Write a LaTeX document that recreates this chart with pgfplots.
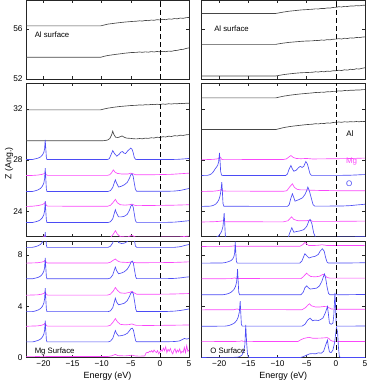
\documentclass[border=0pt]{standalone}
\usepackage{pgfplots}
\pgfplotsset{compat=1.18}
\usepackage{fontspec}
\setmainfont{Liberation Sans}
\definecolor{cblue}{RGB}{75,75,245}
\definecolor{cmag}{RGB}{250,70,250}
\definecolor{cgray}{RGB}{70,70,70}
\pgfplotsset{
 panel/.style={scale only axis, anchor=south west, xmin=-23, xmax=5,
   axis line style={line width=0.6pt, black!85},
   tick style={line width=0.5pt, black!85}, major tick length=3bp,
   xtick={-20,-15,-10,-5,0,5},
   tick label style={font=\fontsize{8.3}{9}\selectfont},
   clip=true},
 noxl/.style={xticklabels={,,,,,}},
 bl/.style={xticklabels={−20,−15,−10,−5,0,5}},
 gl/.style={cgray, line width=0.65pt},
 bu/.style={cblue, line width=0.65pt},
 mg/.style={cmag, line width=0.65pt},
 zl/.style={black, line width=0.6pt, dash pattern=on 5bp off 3bp},
}
\begin{document}
\begin{tikzpicture}
\path[use as bounding box] (0,0) rectangle (374bp,384bp);
% ===================== LEFT TOP =====================
\begin{axis}[panel, noxl, at={(26bp,305bp)}, width=163bp, height=78.5bp,
  ymin=52, ymax=58.3, ytick={52,56}, yticklabels={52,56}]
\addplot[gl] coordinates {(-23,56.26) (-10.2,56.26) (-9.6,56.33) (-9,56.40) (-8,56.46) (-7,56.52) (-6,56.57) (-5,56.61) (-4,56.64) (-3.5,56.67) (-3,56.65) (-2.5,56.70) (-2,56.68) (-1.5,56.73) (-1,56.71) (-0.5,56.76) (0,56.74) (0.5,56.79) (1,56.76) (1.5,56.82) (2,56.80) (2.5,56.85) (3,56.83) (3.5,56.89) (4,56.87) (4.5,56.92) (5,56.94)};
\addplot[gl] coordinates {(-23,53.74) (-10.2,53.74) (-9.6,53.82) (-9,53.88) (-8,53.95) (-7,54.01) (-6,54.07) (-5,54.12) (-4,54.14) (-3.5,54.17) (-3,54.14) (-2.5,54.18) (-2,54.15) (-1.5,54.20) (-1,54.17) (-0.5,54.21) (0,54.18) (0.5,54.22) (1,54.19) (1.5,54.24) (2,54.22) (2.5,54.28) (3,54.30) (3.5,54.36) (4,54.38) (4.5,54.45) (5,54.50)};
\addplot[zl] coordinates {(0,52) (0,58.3)};
\node[anchor=west, font=\fontsize{7.8}{9}\selectfont] at (axis cs:-22.1,55.58) {Al surface};
\end{axis}
% ===================== LEFT MIDDLE =====================
\begin{axis}[panel, noxl, at={(26bp,147.3bp)}, width=163bp, height=153.4bp,
  ymin=22, ymax=34, ytick={24,28,32}, yticklabels={24,28,32}]
\addplot[gl] coordinates {(-23,31.92) (-10.2,31.92) (-9.6,31.99) (-9,32.05) (-8,32.12) (-7,32.18) (-6,32.22) (-5,32.26) (-4,32.28) (-3.5,32.31) (-3,32.29) (-2.5,32.33) (-2,32.31) (-1.5,32.35) (-1,32.33) (-0.5,32.36) (0,32.34) (0.5,32.38) (1,32.36) (1.5,32.40) (2,32.38) (2.5,32.41) (3,32.40) (3.5,32.43) (4,32.41) (4.5,32.44) (5,32.44)};
\addplot[gl] coordinates {(-23,29.50) (-10,29.50) (-9.5,29.52) (-9,29.56) (-8.6,29.68) (-8.3,29.95) (-8.1,30.26) (-7.9,30.0) (-7.6,29.78) (-7.2,29.76) (-6.8,29.82) (-6.5,29.88) (-6.2,29.80) (-5.8,29.72) (-5.4,29.70) (-5,29.69) (-4.5,29.66) (-4,29.65) (-3.5,29.68) (-3,29.66) (-2.5,29.71) (-2,29.69) (-1.5,29.74) (-1,29.72) (-0.5,29.78) (0,29.76) (0.5,29.82) (1,29.80) (1.5,29.86) (2,29.84) (2.5,29.90) (3,29.88) (3.5,29.94) (4,29.92) (4.5,29.97) (5,29.99)};
\addplot[bu] coordinates {(-23,28.04) (-21.9,28.04) (-21.4,28.09) (-20.9,28.15) (-20.5,28.24) (-20.2,28.38) (-19.95,28.58) (-19.8,28.89) (-19.7,29.58) (-19.6,28.89) (-19.5,28.19) (-19.4,28.04) (-9,28.04) (-8.7,28.1) (-8.4,28.4) (-8.1,28.74) (-7.8,28.5) (-7.4,28.3) (-7.0,28.45) (-6.7,28.62) (-6.4,28.66) (-6.2,28.55) (-5.9,28.5) (-5.55,28.7) (-5.2,28.85) (-5.0,28.93) (-4.8,28.85) (-4.6,28.6) (-4.4,28.2) (-4.2,28.06) (-4,28.04) (2,28.04) (3,28.05) (4,28.08) (5,28.12)};
\addplot[mg] coordinates {(-23,26.79) (-22,26.79) (-21,26.82) (-20.3,26.87) (-19.9,26.93) (-19.7,27.0) (-19.5,26.84) (-19.3,26.80) (-9,26.80) (-8.6,26.85) (-8.3,27.0) (-8.0,27.23) (-7.7,27.05) (-7.3,26.95) (-6.5,26.9) (-5.5,26.9) (-5.0,26.97) (-4.6,26.92) (-4.2,26.85) (-3,26.84) (-1,26.85) (0,26.86) (1,26.87) (2,26.88) (3,26.91) (4,26.94) (5,26.97)};
\addplot[bu] coordinates {(-23,25.54) (-21.9,25.54) (-21.4,25.59) (-20.9,25.67) (-20.5,25.78) (-20.2,25.94) (-19.95,26.18) (-19.8,26.55) (-19.7,27.37) (-19.6,26.55) (-19.5,25.72) (-19.4,25.54) (-8.9,25.54) (-8.5,25.6) (-8.1,25.85) (-7.85,26.2) (-7.65,26.45) (-7.45,26.2) (-7.1,25.88) (-6.6,25.95) (-6.1,26.06) (-5.6,26.25) (-5.2,26.6) (-5.0,26.85) (-4.8,26.92) (-4.6,26.75) (-4.4,26.2) (-4.2,25.7) (-4.0,25.56) (1,25.55) (2.5,25.57) (3.5,25.62) (4.3,25.7) (5,25.77)};
\addplot[mg] coordinates {(-23,24.37) (-22,24.38) (-21,24.43) (-20.3,24.5) (-19.9,24.58) (-19.7,24.7) (-19.5,24.45) (-19.3,24.39) (-9,24.38) (-8.5,24.45) (-8.0,24.7) (-7.65,24.92) (-7.3,24.65) (-6.8,24.5) (-6,24.47) (-5.2,24.5) (-4.8,24.55) (-4.4,24.47) (-4,24.43) (-2,24.44) (0,24.45) (2,24.46) (3.5,24.48) (5,24.5)};
\addplot[bu] coordinates {(-23,23.11) (-21.9,23.11) (-21.4,23.16) (-20.9,23.23) (-20.5,23.33) (-20.2,23.48) (-19.95,23.7) (-19.8,24.03) (-19.7,24.79) (-19.6,24.03) (-19.5,23.28) (-19.4,23.11) (-8.9,23.11) (-8.5,23.17) (-8.1,23.4) (-7.85,23.8) (-7.65,24.11) (-7.45,23.85) (-7.1,23.55) (-6.6,23.55) (-6.1,23.6) (-5.6,23.75) (-5.2,24.1) (-5.0,24.38) (-4.8,24.5) (-4.6,24.35) (-4.4,23.8) (-4.2,23.25) (-4.0,23.12) (1,23.12) (2.5,23.14) (3.5,23.18) (4.3,23.22) (5,23.25)};
\addplot[mg] coordinates {(-23,21.85) (-20.5,21.9) (-19.9,22.0) (-19.7,22.12) (-19.5,21.9) (-9,21.86) (-8.5,21.93) (-8.0,22.2) (-7.65,22.47) (-7.3,22.2) (-6.8,22.0) (-5.5,21.98) (-4.8,22.12) (-4.4,22.0) (-4,21.95) (0,21.97) (3.5,21.99) (5,22.05)};
\addplot[bu] coordinates {(-23,20.6) (-20.2,20.9) (-19.95,21.2) (-19.8,21.6) (-19.7,22.35) (-19.6,21.6) (-19.5,20.8) (-19.4,20.6) (-9,20.6) (-7.65,21.6) (-7.1,21.0) (-4.8,21.9) (-4,20.6) (5,20.75)};
\addplot[zl] coordinates {(0,22) (0,34)};
\end{axis}
% ===================== LEFT BOTTOM =====================
\begin{axis}[panel, bl, at={(26bp,26.3bp)}, width=163bp, height=116bp,
  ymin=0, ymax=9.04, ytick={0,4,8}, yticklabels={0,4,8}]
\addplot[bu] coordinates {(-23,8.6) (-21.9,8.6) (-21.4,8.65) (-20.9,8.73) (-20.5,8.83) (-20.2,9.0) (-19.95,9.23) (-19.8,9.6) (-19.7,10.4) (-19.6,9.6) (-19.5,8.78) (-19.4,8.6) (-8.9,8.6) (-8.5,8.68) (-8.1,8.95) (-7.85,9.4) (-7.65,9.7) (-7.45,9.4) (-7.1,8.98) (-6.6,8.9) (-6.1,8.93) (-5.6,9.05) (-5.2,9.5) (-5.0,9.9) (-4.8,10.0) (-4.6,9.8) (-4.4,9.2) (-4.2,8.7) (-4.0,8.6) (2.5,8.6) (3.5,8.65) (4.3,8.75) (5,8.82)};
\addplot[mg] coordinates {(-23,7.37) (-21,7.4) (-20.3,7.45) (-19.9,7.5) (-19.7,7.6) (-19.5,7.42) (-19.3,7.38) (-9,7.38) (-8.5,7.44) (-8.0,7.6) (-7.65,7.69) (-7.3,7.55) (-6.8,7.45) (-5.5,7.42) (-4.8,7.47) (-4.4,7.42) (-4,7.4) (0,7.41) (2,7.42) (3.5,7.44) (5,7.47)};
\addplot[bu] coordinates {(-23,6.15) (-21.9,6.15) (-21.4,6.2) (-20.9,6.26) (-20.5,6.36) (-20.2,6.51) (-19.95,6.72) (-19.8,7.04) (-19.7,7.77) (-19.6,7.04) (-19.5,6.31) (-19.4,6.15) (-8.9,6.15) (-8.5,6.21) (-8.1,6.45) (-7.85,6.8) (-7.65,7.06) (-7.45,6.8) (-7.1,6.54) (-6.6,6.6) (-6.1,6.7) (-5.6,6.9) (-5.2,7.2) (-5.0,7.42) (-4.75,7.53) (-4.55,7.35) (-4.35,6.8) (-4.15,6.3) (-4.0,6.16) (1,6.16) (2.5,6.18) (3.5,6.22) (4.3,6.27) (5,6.3)};
\addplot[mg] coordinates {(-23,4.87) (-21,4.9) (-20.3,4.95) (-19.9,5.02) (-19.7,5.12) (-19.5,4.93) (-19.3,4.88) (-9,4.88) (-8.5,4.95) (-8.0,5.2) (-7.65,5.47) (-7.3,5.25) (-6.8,5.05) (-6,5.02) (-5.3,5.08) (-4.8,5.16) (-4.4,5.05) (-4,4.95) (-2,4.94) (0,4.95) (2,4.96) (3.5,4.98) (5,5.0)};
\addplot[bu] coordinates {(-23,3.59) (-21.9,3.59) (-21.4,3.64) (-20.9,3.72) (-20.5,3.83) (-20.2,3.99) (-19.95,4.23) (-19.8,4.6) (-19.7,5.42) (-19.6,4.6) (-19.5,3.77) (-19.4,3.59) (-8.9,3.59) (-8.5,3.65) (-8.1,3.9) (-7.85,4.3) (-7.65,4.64) (-7.45,4.35) (-7.1,4.12) (-6.6,4.18) (-6.1,4.25) (-5.6,4.45) (-5.2,4.8) (-5.0,5.02) (-4.75,5.13) (-4.55,4.95) (-4.35,4.4) (-4.15,3.8) (-4.0,3.6) (1,3.6) (2.5,3.63) (3.5,3.68) (4.3,3.74) (5,3.8)};
\addplot[mg] coordinates {(-23,2.45) (-21,2.48) (-20.3,2.53) (-19.9,2.6) (-19.7,2.7) (-19.5,2.5) (-19.3,2.46) (-9,2.46) (-8.5,2.53) (-8.0,2.8) (-7.65,3.05) (-7.3,2.8) (-6.8,2.6) (-6,2.56) (-5.3,2.58) (-4.8,2.63) (-4.4,2.56) (-4,2.52) (-2,2.51) (0,2.52) (2,2.53) (3.5,2.54) (5,2.55)};
\addplot[bu] coordinates {(-23,1.23) (-21.9,1.23) (-21.4,1.28) (-20.9,1.35) (-20.5,1.45) (-20.2,1.6) (-19.95,1.81) (-19.8,2.14) (-19.7,2.89) (-19.6,2.14) (-19.5,1.4) (-19.4,1.23) (-8.9,1.23) (-8.5,1.29) (-8.1,1.5) (-7.85,1.85) (-7.65,2.11) (-7.45,1.9) (-7.1,1.69) (-6.6,1.72) (-6.1,1.78) (-5.6,1.9) (-5.2,2.12) (-5.0,2.25) (-4.75,2.3) (-4.55,2.15) (-4.35,1.7) (-4.15,1.3) (-4.0,1.24) (1,1.24) (2.5,1.26) (3.3,1.3) (3.8,1.4) (4.2,1.5) (4.6,1.45) (5,1.5)};
\addplot[mg] coordinates {(-23,0.08) (-21,0.09) (-19.7,0.12) (-19.5,0.09) (-9,0.09) (-8.3,0.14) (-7.65,0.26) (-7.2,0.16) (-6,0.14) (-5.2,0.17) (-4.8,0.2) (-4.3,0.14) (-3.5,0.12) (-2.6,0.14) (-2.4,0.35) (-2.2,0.42) (-2.0,0.38) (-1.8,0.5) (-1.6,0.45) (-1.4,0.55) (-1.2,0.42) (-1.0,0.6) (-0.8,0.48) (-0.6,0.4) (-0.4,0.55) (-0.2,0.3) (0,0.45) (0.2,0.62) (0.4,0.5) (0.6,0.75) (0.8,0.55) (1.0,0.85) (1.2,0.4) (1.4,0.65) (1.6,0.5) (1.8,0.72) (2.0,0.45) (2.2,0.3) (2.4,0.55) (2.6,0.7) (2.8,0.38) (3.0,0.6) (3.2,0.45) (3.4,0.68) (3.6,0.35) (3.8,0.5) (4.0,0.42) (4.2,0.8) (4.4,0.4) (4.6,0.95) (4.8,0.5) (5,0.6)};
\addplot[zl] coordinates {(0,0) (0,9.04)};
\node[anchor=west, font=\fontsize{7.8}{9}\selectfont] at (axis cs:-22.1,0.52) {Mg Surface};
\end{axis}
% ===================== RIGHT TOP =====================
\begin{axis}[panel, noxl, at={(201.7bp,305bp)}, width=163.3bp, height=78.5bp,
  ymin=52, ymax=58.3, ytick={52,56}, yticklabels={,}]
\addplot[gl] coordinates {(-23,57.26) (-10.3,57.26) (-9.6,57.32) (-9,57.37) (-8,57.44) (-7,57.49) (-6,57.54) (-5,57.57) (-4,57.6) (-3.5,57.63) (-3,57.62) (-2.5,57.66) (-2,57.65) (-1.5,57.7) (-1,57.69) (-0.5,57.74) (0,57.75) (0.5,57.80) (1,57.78) (1.5,57.83) (2,57.82) (2.5,57.86) (3,57.85) (3.5,57.89) (4,57.87) (4.5,57.91) (5,57.92)};
\addplot[gl] coordinates {(-23,54.78) (-10.3,54.78) (-9.6,54.84) (-9,54.88) (-8,54.94) (-7,54.98) (-6,55.02) (-5,55.05) (-4,55.06) (-3.5,55.1) (-3,55.08) (-2.5,55.13) (-2,55.11) (-1.5,55.16) (-1,55.14) (-0.5,55.19) (0,55.2) (0.5,55.24) (1,55.21) (1.5,55.27) (2,55.25) (2.5,55.3) (3,55.28) (3.5,55.33) (4,55.32) (4.5,55.36) (5,55.38)};
\addplot[gl] coordinates {(-23,52.24) (-10.3,52.24) (-9.6,52.3) (-9,52.35) (-8,52.41) (-7,52.46) (-6,52.5) (-5,52.52) (-4,52.54) (-3.5,52.58) (-3,52.56) (-2.5,52.6) (-2,52.58) (-1.5,52.63) (-1,52.61) (-0.5,52.66) (0,52.66) (0.5,52.70) (1,52.68) (1.5,52.74) (2,52.71) (2.5,52.78) (3,52.75) (3.5,52.82) (4,52.80) (4.5,52.86) (5,52.9)};
\addplot[zl] coordinates {(0,52) (0,58.3)};
\node[anchor=west, font=\fontsize{7.8}{9}\selectfont] at (axis cs:-21.45,56.06) {Al surface};
\end{axis}
% ===================== RIGHT MIDDLE =====================
\begin{axis}[panel, noxl, at={(201.7bp,147.3bp)}, width=163.3bp, height=153.4bp,
  ymin=22, ymax=34, ytick={24,28,32}, yticklabels={,,}]
\addplot[gl] coordinates {(-23,32.86) (-10.3,32.86) (-9.6,32.93) (-9,32.99) (-8,33.06) (-7,33.12) (-6,33.17) (-5,33.21) (-4,33.25) (-3.5,33.28) (-3,33.27) (-2.5,33.31) (-2,33.3) (-1.5,33.34) (-1,33.33) (-0.5,33.37) (0,33.37) (0.5,33.41) (1,33.39) (1.5,33.44) (2,33.42) (2.5,33.46) (3,33.45) (3.5,33.48) (4,33.47) (4.5,33.5) (5,33.51)};
\addplot[gl] coordinates {(-23,30.38) (-10.3,30.38) (-9.6,30.46) (-9,30.53) (-8,30.61) (-7,30.67) (-6,30.72) (-5,30.77) (-4,30.8) (-3.5,30.84) (-3,30.82) (-2.5,30.87) (-2,30.85) (-1.5,30.9) (-1,30.88) (-0.5,30.93) (0,30.95) (0.5,30.97) (1,30.95) (1.5,30.99) (2,30.97) (2.5,31.0) (3,30.98) (3.5,31.01) (4,30.99) (4.5,31.02) (5,31.01)};
\addplot[mg] coordinates {(-23,28.02) (-21,28.05) (-20.3,28.09) (-19.95,28.15) (-19.75,28.2) (-19.6,28.06) (-19.3,28.03) (-9,28.04) (-8.5,28.08) (-8.0,28.25) (-7.7,28.35) (-7.3,28.2) (-6.8,28.12) (-6,28.1) (-5,28.12) (-4.5,28.1) (-4,28.08) (-2,28.09) (0,28.1) (2,28.11) (3.5,28.13) (5,28.15)};
\addplot[bu] coordinates {(-23,26.79) (-22,26.8) (-21.6,26.85) (-21.3,26.93) (-21,27.08) (-20.7,27.3) (-20.45,27.45) (-20.25,27.6) (-20.1,27.85) (-19.95,28.56) (-19.85,27.9) (-19.75,27.1) (-19.6,26.82) (-19.4,26.79) (-8.6,26.79) (-8.3,26.9) (-8.0,27.3) (-7.7,27.57) (-7.45,27.3) (-7.2,27.12) (-6.8,27.2) (-6.4,27.4) (-6.1,27.5) (-5.8,27.42) (-5.5,27.5) (-5.15,27.88) (-4.9,27.7) (-4.7,27.4) (-4.45,26.95) (-4.2,26.8) (1,26.8) (2.5,26.81) (3.5,26.83) (4.3,26.85) (5,26.86)};
\addplot[mg] coordinates {(-23,25.54) (-21,25.56) (-20.2,25.6) (-19.8,25.65) (-19.55,25.7) (-19.4,25.57) (-9,25.55) (-8.4,25.6) (-7.9,25.9) (-7.45,26.14) (-7.1,25.85) (-6.6,25.7) (-6,25.66) (-5,25.66) (-4.5,25.64) (-3,25.62) (0,25.6) (2,25.6) (3.5,25.6) (5,25.6)};
\addplot[bu] coordinates {(-23,24.37) (-21.5,24.39) (-21,24.45) (-20.6,24.55) (-20.3,24.7) (-20.05,24.9) (-19.85,25.2) (-19.7,25.6) (-19.55,26.27) (-19.45,25.5) (-19.35,24.6) (-19.2,24.38) (-8.3,24.37) (-8.0,24.5) (-7.75,24.95) (-7.45,25.36) (-7.2,25.05) (-7.0,24.78) (-6.6,24.85) (-6.1,24.95) (-5.7,25.05) (-5.3,25.3) (-5.0,25.6) (-4.8,25.88) (-4.55,25.6) (-4.2,25.0) (-3.9,24.5) (-3.6,24.39) (1,24.4) (2.5,24.43) (3.5,24.48) (4.3,24.51) (5,24.54)};
\addplot[mg] coordinates {(-23,23.15) (-21,23.17) (-20,23.2) (-19.2,23.25) (-19.0,23.17) (-9,23.16) (-8.2,23.25) (-7.6,23.55) (-7.2,23.35) (-6.5,23.25) (-5,23.25) (-4.4,23.3) (-4.0,23.2) (0,23.2) (5,23.22)};
\addplot[bu] coordinates {(-23,21.9) (-20.5,21.95) (-20,22.1) (-19.6,22.4) (-19.35,22.8) (-19.15,23.85) (-19.05,23.0) (-18.95,22.1) (-18.8,21.9) (-8.2,21.9) (-7.9,22.3) (-7.55,22.7) (-7.2,22.35) (-6.8,22.4) (-6.2,22.45) (-5.5,22.55) (-5.0,22.8) (-4.6,23.25) (-4.4,23.35) (-4.1,23.0) (-3.8,22.3) (-3.5,21.95) (5,22.0)};
\addplot[zl] coordinates {(0,22) (0,34)};
\node[font=\fontsize{8}{9}\selectfont, black] at (axis cs:2.4,30.05) {Al};
\node[font=\fontsize{8}{9}\selectfont, cmag] at (axis cs:2.7,27.84) {Mg};
\node[font=\fontsize{8}{9}\selectfont, cblue] at (axis cs:2.3,26.12) {O};
\end{axis}
% ===================== RIGHT BOTTOM =====================
\begin{axis}[panel, bl, at={(201.7bp,26.3bp)}, width=163.3bp, height=116bp,
  ymin=0, ymax=9.04, ytick={0,4,8}, yticklabels={,,}]
\addplot[mg] coordinates {(-23,8.67) (-18,8.68) (-17.3,8.72) (-17.0,8.68) (-6.2,8.68) (-5.7,8.8) (-5.3,8.98) (-5.0,8.88) (-4.7,8.75) (-4,8.74) (-3,8.76) (-2.4,8.8) (-2,8.78) (-1.5,8.74) (0,8.74) (5,8.75)};
\addplot[bu] coordinates {(-23,7.37) (-19.5,7.38) (-19,7.41) (-18.5,7.47) (-18,7.56) (-17.7,7.68) (-17.5,7.85) (-17.35,8.15) (-17.25,9.05) (-17.15,8.2) (-17.05,7.5) (-16.9,7.37) (-6.2,7.37) (-5.8,7.55) (-5.5,7.9) (-5.3,8.1) (-5.0,7.95) (-4.6,7.77) (-4.1,7.85) (-3.55,7.9) (-3.0,8.05) (-2.7,8.3) (-2.3,8.49) (-2.0,8.3) (-1.75,7.8) (-1.5,7.45) (-1.3,7.38) (2,7.38) (3.5,7.39) (5,7.4)};
\addplot[mg] coordinates {(-23,6.15) (-18,6.16) (-17.3,6.22) (-17.1,6.17) (-6.0,6.16) (-5.6,6.3) (-5.2,6.5) (-5.0,6.59) (-4.7,6.45) (-4.3,6.33) (-3.5,6.3) (-2.8,6.35) (-2.2,6.5) (-1.9,6.42) (-1.5,6.25) (-1,6.2) (2,6.2) (5,6.2)};
\addplot[bu] coordinates {(-23,4.9) (-19.3,4.91) (-18.8,4.95) (-18.3,5.02) (-17.9,5.12) (-17.5,5.3) (-17.2,5.55) (-17.0,5.95) (-16.85,6.9) (-16.75,6.0) (-16.65,5.1) (-16.5,4.91) (-6.0,4.9) (-5.6,5.1) (-5.3,5.45) (-5.0,5.6) (-4.7,5.45) (-4.4,5.35) (-3.9,5.38) (-3.3,5.42) (-2.8,5.6) (-2.4,5.95) (-2.1,6.35) (-1.95,6.52) (-1.75,6.2) (-1.5,5.5) (-1.25,5.0) (-1.0,4.91) (2,4.91) (3.5,4.92) (5,4.93)};
\addplot[mg] coordinates {(-23,3.73) (-17.5,3.74) (-16.9,3.8) (-16.6,3.75) (-5.8,3.74) (-5.2,3.9) (-4.8,4.1) (-4.5,4.2) (-4.2,4.05) (-3.5,3.95) (-2.8,3.95) (-2.2,3.98) (-1.8,4.0) (-1.5,4.0) (-1.2,3.9) (-0.8,3.8) (0,3.77) (2,3.77) (5,3.78)};
\addplot[bu] coordinates {(-23,2.45) (-19,2.46) (-18.4,2.5) (-17.9,2.58) (-17.4,2.7) (-17.0,2.9) (-16.75,3.15) (-16.55,3.55) (-16.4,4.4) (-16.3,3.5) (-16.2,2.6) (-16.05,2.46) (-5.8,2.46) (-5.3,2.6) (-4.8,2.95) (-4.4,3.08) (-4.0,2.88) (-3.6,2.93) (-3.0,2.9) (-2.7,2.95) (-2.2,3.1) (-1.8,3.5) (-1.44,3.98) (-1.3,3.5) (-1.1,2.7) (-0.8,2.6) (-0.5,2.7) (-0.35,3.3) (-0.15,5.05) (-0.05,4.0) (0.05,2.6) (0.2,2.46) (2,2.46) (5,2.47)};
\addplot[mg] coordinates {(-23,1.25) (-16.5,1.27) (-16.1,1.32) (-15.9,1.27) (-6.5,1.26) (-6.0,1.4) (-5.5,1.5) (-4.6,1.59) (-4.0,1.52) (-3.2,1.52) (-2.5,1.53) (-1.9,1.55) (-1.5,1.57) (-1.2,1.5) (-0.9,1.35) (-0.5,1.28) (0,1.27) (2,1.26) (5,1.26)};
\addplot[bu] coordinates {(-23,0.02) (-17,0.03) (-16.5,0.08) (-16.1,0.2) (-15.8,0.5) (-15.6,1.0) (-15.45,2.55) (-15.3,1.2) (-15.15,0.3) (-15.0,0.05) (-14.8,0.02) (-6,0.02) (-5.5,0.1) (-5,0.2) (-4.5,0.3) (-4,0.32) (-3.5,0.3) (-3.0,0.38) (-2.5,0.35) (-2.1,0.5) (-1.8,0.9) (-1.44,1.38) (-1.3,0.9) (-1.1,0.45) (-0.8,0.4) (-0.5,0.6) (-0.2,1.2) (0.1,2.35) (0.3,2.0) (0.45,0.8) (0.6,0.1) (0.8,0.02) (5,0.02)};
\addplot[zl] coordinates {(0,0) (0,9.04)};
\node[anchor=west, font=\fontsize{7.8}{9}\selectfont] at (axis cs:-22.1,0.52) {O Surface};
\end{axis}
% labels
\node[rotate=90, font=\fontsize{8.8}{10}\selectfont] at (9bp,220.7bp) {Z (Ang.)};
\node[font=\fontsize{9}{10}\selectfont] at (107.5bp,8.3bp) {Energy (eV)};
\node[font=\fontsize{9}{10}\selectfont] at (283.3bp,8.3bp) {Energy (eV)};
\end{tikzpicture}
\end{document}
